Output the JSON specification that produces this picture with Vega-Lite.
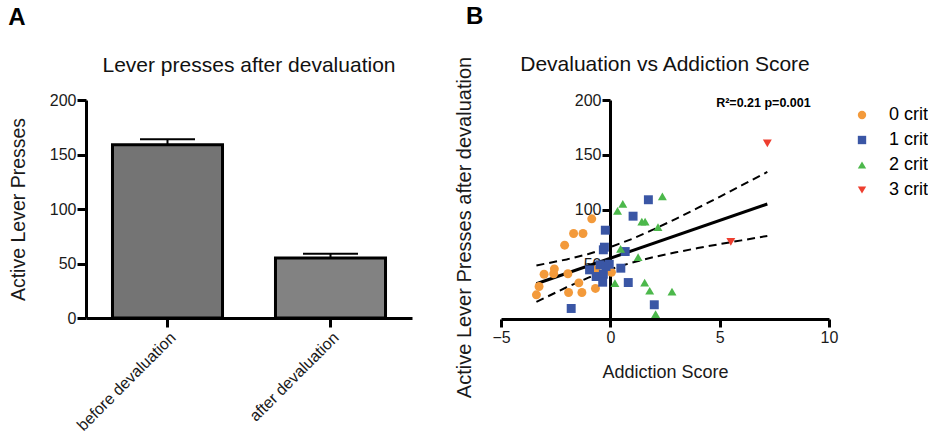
{
  "$schema": "https://vega.github.io/schema/vega-lite/v6.json",
  "padding": {"left": 8, "top": 5, "right": 2, "bottom": 2},
  "background": "white",
  "datasets": {
    "bars": [
      {"condition": "before devaluation", "mean": 159, "upper": 164},
      {"condition": "after devaluation", "mean": 55, "upper": 59}
    ],
    "points": [
      {"group": "0 crit", "score": -0.85, "presses": 91.5},
      {"group": "0 crit", "score": -1.68, "presses": 78.1},
      {"group": "0 crit", "score": -1.25, "presses": 78.1},
      {"group": "0 crit", "score": -2.09, "presses": 67.4},
      {"group": "0 crit", "score": -3.03, "presses": 40.9},
      {"group": "0 crit", "score": -2.56, "presses": 45.8},
      {"group": "0 crit", "score": -2.59, "presses": 41.3},
      {"group": "0 crit", "score": -1.94, "presses": 41.3},
      {"group": "0 crit", "score": -3.26, "presses": 29.7},
      {"group": "0 crit", "score": -3.38, "presses": 22.1},
      {"group": "0 crit", "score": -1.44, "presses": 33.0},
      {"group": "0 crit", "score": -1.91, "presses": 24.2},
      {"group": "0 crit", "score": -1.30, "presses": 24.2},
      {"group": "0 crit", "score": -0.68, "presses": 27.9},
      {"group": "0 crit", "score": 0.05, "presses": 42.7},
      {"group": "0 crit", "score": -0.65, "presses": 44.9},
      {"group": "1 crit", "score": 1.74, "presses": 108.9},
      {"group": "1 crit", "score": 1.04, "presses": 93.9},
      {"group": "1 crit", "score": -0.23, "presses": 81.1},
      {"group": "1 crit", "score": -0.27, "presses": 65.6},
      {"group": "1 crit", "score": -0.32, "presses": 63.2},
      {"group": "1 crit", "score": 0.68, "presses": 61.6},
      {"group": "1 crit", "score": 0.48, "presses": 46.4},
      {"group": "1 crit", "score": -0.05, "presses": 50.0},
      {"group": "1 crit", "score": -0.47, "presses": 49.5},
      {"group": "1 crit", "score": -0.95, "presses": 44.9},
      {"group": "1 crit", "score": -0.65, "presses": 38.8},
      {"group": "1 crit", "score": -0.32, "presses": 40.9},
      {"group": "1 crit", "score": -0.35, "presses": 33.6},
      {"group": "1 crit", "score": 0.82, "presses": 33.3},
      {"group": "1 crit", "score": 2.01, "presses": 13.0},
      {"group": "1 crit", "score": -1.79, "presses": 9.6},
      {"group": "1 crit", "score": -0.2, "presses": 48.0},
      {"group": "2 crit", "score": 2.38, "presses": 111.9},
      {"group": "2 crit", "score": 0.57, "presses": 105.2},
      {"group": "2 crit", "score": 0.33, "presses": 98.8},
      {"group": "2 crit", "score": 1.44, "presses": 89.0},
      {"group": "2 crit", "score": 1.59, "presses": 89.0},
      {"group": "2 crit", "score": 2.18, "presses": 83.8},
      {"group": "2 crit", "score": 0.47, "presses": 64.1},
      {"group": "2 crit", "score": 1.27, "presses": 56.4},
      {"group": "2 crit", "score": 0.21, "presses": 32.7},
      {"group": "2 crit", "score": 1.57, "presses": 33.3},
      {"group": "2 crit", "score": 1.80, "presses": 25.8},
      {"group": "2 crit", "score": 2.82, "presses": 25.1},
      {"group": "2 crit", "score": 2.07, "presses": 4.4},
      {"group": "3 crit", "score": 7.18, "presses": 160.5},
      {"group": "3 crit", "score": 5.51, "presses": 70.5}
    ],
    "fit": [
      {"score": -3.38, "presses": 32.2},
      {"score": 7.18, "presses": 105.0}
    ],
    "ci": [
      {"band": "upper", "score": -3.38, "presses": 48.9},
      {"band": "upper", "score": -2, "presses": 54.4},
      {"band": "upper", "score": -1, "presses": 59.4},
      {"band": "upper", "score": 0, "presses": 65.6},
      {"band": "upper", "score": 1, "presses": 73.2},
      {"band": "upper", "score": 2, "presses": 82.0},
      {"band": "upper", "score": 3, "presses": 91.5},
      {"band": "upper", "score": 4, "presses": 101.4},
      {"band": "upper", "score": 5, "presses": 111.6},
      {"band": "upper", "score": 6, "presses": 122.0},
      {"band": "upper", "score": 7.18, "presses": 134.3},
      {"band": "lower", "score": -3.38, "presses": 15.6},
      {"band": "lower", "score": -2, "presses": 29.0},
      {"band": "lower", "score": -1, "presses": 37.8},
      {"band": "lower", "score": 0, "presses": 45.4},
      {"band": "lower", "score": 1, "presses": 51.6},
      {"band": "lower", "score": 2, "presses": 56.6},
      {"band": "lower", "score": 3, "presses": 60.9},
      {"band": "lower", "score": 4, "presses": 64.8},
      {"band": "lower", "score": 5, "presses": 68.4},
      {"band": "lower", "score": 6, "presses": 71.8},
      {"band": "lower", "score": 7.18, "presses": 75.9}
    ],
    "note": [
      {"score": 7.0, "presses": 197, "label": "R²=0.21 p=0.001"}
    ]
  },
  "hconcat": [
    {
      "title": {"text": "A", "fontSize": 24, "fontWeight": "bold", "anchor": "start", "color": "black", "offset": 25},
      "vconcat": [
        {
          "width": 326,
          "height": 218,
          "title": {"text": "Lever presses after devaluation", "fontSize": 21, "fontWeight": "normal", "anchor": "middle", "offset": 16, "color": "#111"},
          "data": {"name": "bars"},
          "layer": [
            {
              "mark": {"type": "bar", "stroke": "black", "strokeWidth": 3},
              "encoding": {
                "x": {
                  "field": "condition", "type": "nominal", "sort": null,
                  "scale": {"paddingInner": 0.325, "paddingOuter": 0.1625},
                  "axis": {"title": null, "labelAngle": -45, "labelFontSize": 16, "labelPadding": 2, "tickSize": 9, "tickWidth": 3, "domainWidth": 3, "domainColor": "black", "tickColor": "black", "labelColor": "#1a1a1a"}
                },
                "y": {
                  "field": "mean", "type": "quantitative",
                  "scale": {"domain": [0, 200]},
                  "axis": {"values": [0, 50, 100, 150, 200], "title": "Active Lever Presses", "titleFontSize": 19.5, "titleFontWeight": "normal", "titlePadding": 21, "titleColor": "#1a1a1a", "labelFontSize": 16, "labelPadding": 1, "labelColor": "#1a1a1a", "tickSize": 9, "tickWidth": 3, "domainWidth": 3, "domainColor": "black", "tickColor": "black"}
                },
                "fill": {"field": "condition", "type": "nominal", "sort": null, "scale": {"range": ["#747474", "#828282"]}, "legend": null}
              }
            },
            {
              "mark": {"type": "rule", "stroke": "black", "strokeWidth": 2},
              "encoding": {
                "x": {"field": "condition", "type": "nominal", "sort": null},
                "y": {"field": "mean", "type": "quantitative"},
                "y2": {"field": "upper"}
              }
            },
            {
              "mark": {"type": "tick", "orient": "horizontal", "color": "black", "thickness": 2, "size": 55, "opacity": 1},
              "encoding": {
                "x": {"field": "condition", "type": "nominal", "sort": null},
                "y": {"field": "upper", "type": "quantitative"}
              }
            }
          ]
        }
      ]
    },
    {
      "title": {"text": "B", "fontSize": 24, "fontWeight": "bold", "anchor": "start", "color": "black", "offset": 25, "dx": 12},
      "vconcat": [
        {
          "width": 328,
          "height": 219,
          "title": {"text": "Devaluation vs Addiction Score", "fontSize": 21, "fontWeight": "normal", "anchor": "middle", "offset": -19, "color": "#111"},
          "layer": [
            {
              "data": {"name": "ci"},
              "mark": {"type": "line", "stroke": "black", "strokeWidth": 2, "strokeDash": [8, 5]},
              "encoding": {
                "x": {
                  "field": "score", "type": "quantitative",
                  "scale": {"domain": [-5, 10], "nice": false, "zero": false},
                  "axis": {"values": [-5, 0, 5, 10], "title": "Addiction Score", "titleFontSize": 18, "titleFontWeight": "normal", "titlePadding": 18, "titleColor": "#1a1a1a", "labelFontSize": 16, "labelPadding": 2, "labelColor": "#1a1a1a", "tickSize": 8, "tickWidth": 3, "domainWidth": 3, "domainColor": "black", "tickColor": "black", "labelFlush": false}
                },
                "y": {
                  "field": "presses", "type": "quantitative",
                  "scale": {"domain": [0, 200], "nice": false},
                  "axis": {"values": [50, 100, 150, 200], "offset": -109, "title": "Active Lever Presses after devaluation", "titleFontSize": 20, "titleFontWeight": "normal", "titleColor": "#1a1a1a", "titleX": -146, "titleY": 127, "titleAlign": "center", "titleBaseline": "middle", "titleAngle": 270, "labelFontSize": 16, "labelPadding": 1, "labelColor": "#1a1a1a", "tickSize": 8, "tickWidth": 3, "domainWidth": 3, "domainColor": "black", "tickColor": "black", "labelFlush": false}
                },
                "detail": {"field": "band", "type": "nominal"}
              }
            },
            {
              "data": {"name": "fit"},
              "mark": {"type": "line", "stroke": "black", "strokeWidth": 3},
              "encoding": {
                "x": {"field": "score", "type": "quantitative"},
                "y": {"field": "presses", "type": "quantitative"}
              }
            },
            {
              "data": {"name": "points"},
              "mark": {"type": "point", "filled": true, "opacity": 1, "size": 80, "strokeWidth": 0},
              "encoding": {
                "x": {"field": "score", "type": "quantitative"},
                "y": {"field": "presses", "type": "quantitative"},
                "color": {
                  "field": "group", "type": "nominal",
                  "scale": {"domain": ["0 crit", "1 crit", "2 crit", "3 crit"], "range": ["#F39A3B", "#3A56A5", "#4CB84B", "#EE3E2F"]},
                  "legend": {"title": null, "orient": "none", "legendX": 767, "legendY": 6, "labelFontSize": 18, "labelOffset": 18, "rowPadding": 7, "symbolSize": 70, "symbolStrokeWidth": 0,
                    "encode": {"labels": {"update": {"fill": {"signal": "datum.label === '0 crit' ? '#F39A3B' : datum.label === '1 crit' ? '#3A56A5' : datum.label === '2 crit' ? '#4CB84B' : '#EE3E2F'"}}}}}
                },
                "shape": {
                  "field": "group", "type": "nominal",
                  "scale": {"domain": ["0 crit", "1 crit", "2 crit", "3 crit"], "range": ["circle", "square", "triangle-up", "triangle-down"]},
                  "legend": {"title": null, "orient": "none", "legendX": 767, "legendY": 6, "labelFontSize": 18, "labelOffset": 18, "rowPadding": 7, "symbolSize": 70, "symbolStrokeWidth": 0,
                    "encode": {"labels": {"update": {"fill": {"signal": "datum.label === '0 crit' ? '#F39A3B' : datum.label === '1 crit' ? '#3A56A5' : datum.label === '2 crit' ? '#4CB84B' : '#EE3E2F'"}}}}}
                }
              }
            },
            {
              "data": {"name": "note"},
              "mark": {"type": "text", "fontSize": 12.5, "fontWeight": "bold", "color": "black", "align": "center", "baseline": "middle"},
              "encoding": {
                "x": {"field": "score", "type": "quantitative"},
                "y": {"field": "presses", "type": "quantitative"},
                "text": {"field": "label"}
              }
            }
          ]
        }
      ]
    }
  ],
  "spacing": 42,
  "config": {
    "font": "Liberation Sans",
    "view": {"stroke": null},
    "axis": {"grid": false, "labelFont": "Liberation Sans", "titleFont": "Liberation Sans"},
    "legend": {"labelFont": "Liberation Sans"},
    "title": {"font": "Liberation Sans"}
  }
}
